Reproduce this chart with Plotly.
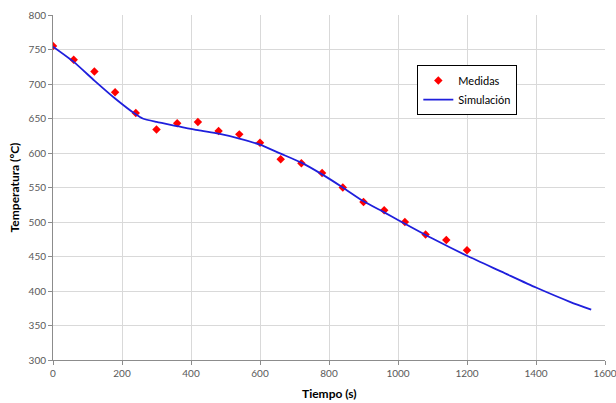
import plotly.graph_objects as go

# Measured temperatures (every 60 s)
tiempo_medidas = [0, 60, 120, 180, 240, 300, 360, 420, 480, 540, 600,
                  660, 720, 780, 840, 900, 960, 1020, 1080, 1140, 1200]
temp_medidas = [755, 735, 718, 688, 658, 634, 643, 645, 632, 627, 615,
                591, 585, 571, 550, 529, 517, 500, 482, 474, 459]

# Simulated cooling curve
tiempo_sim = [0, 60, 120, 180, 240, 260, 300, 360, 420, 480, 540, 600,
              660, 720, 780, 840, 900, 960, 1000, 1100, 1200, 1300,
              1400, 1500, 1560]
temp_sim = [754, 732, 705, 679, 656, 650, 645, 639, 633, 628, 621, 612,
            599, 586, 569, 550, 530, 514, 503, 476, 451, 428,
            405, 384, 373]

x_ticks = [0, 200, 400, 600, 800, 1000, 1200, 1400, 1600]
y_ticks = [300, 350, 400, 450, 500, 550, 600, 650, 700, 750, 800]

fig = go.Figure()
fig.add_trace(go.Scatter(
    x=tiempo_medidas, y=temp_medidas, mode="markers", name="Medidas",
    marker=dict(symbol="diamond", size=6.5, color="#ff0000"),
))
fig.add_trace(go.Scatter(
    x=tiempo_sim, y=temp_sim, mode="lines", name="Simulación",
    line=dict(color="#1f1fdc", width=1.8, shape="spline", smoothing=0.6),
))

axis_common = dict(
    showgrid=True, gridcolor="#d9d9d9", gridwidth=1,
    showline=True, linecolor="#8c8c8c", linewidth=1,
    ticks="outside", ticklen=4, tickcolor="#8c8c8c",
    tickfont=dict(family="Lato, sans-serif", size=10, color="#595959"),
    zeroline=False, automargin=False, ticklabeloverflow="allow",
)

fig.update_layout(
    width=616, height=403,
    margin=dict(l=53, r=11, t=15, b=43),
    paper_bgcolor="white", plot_bgcolor="white",
    font=dict(family="Lato, sans-serif"),
    xaxis=dict(range=[0, 1600], tickvals=x_ticks, **axis_common),
    yaxis=dict(
        range=[300, 800], tickvals=y_ticks,
        title=dict(text="<b>Temperatura (ºC)</b>", standoff=6,
                   font=dict(size=12, color="#000000")),
        **axis_common,
    ),
    showlegend=True,
    legend=dict(
        x=0.66, y=0.855, xanchor="left", yanchor="top",
        bgcolor="white", bordercolor="#000000", borderwidth=1,
        font=dict(family="Lato, sans-serif", size=11, color="#000000"),
        itemwidth=30, tracegroupgap=0,
    ),
)

# X-axis title sits low, near the bottom edge of the figure
fig.add_annotation(
    text="<b>Tiempo (s)</b>", xref="paper", yref="paper",
    x=0.5, y=-0.097, xanchor="center", yanchor="middle", showarrow=False,
    font=dict(family="Lato, sans-serif", size=12, color="#000000"),
)

fig.write_html("out.html")
